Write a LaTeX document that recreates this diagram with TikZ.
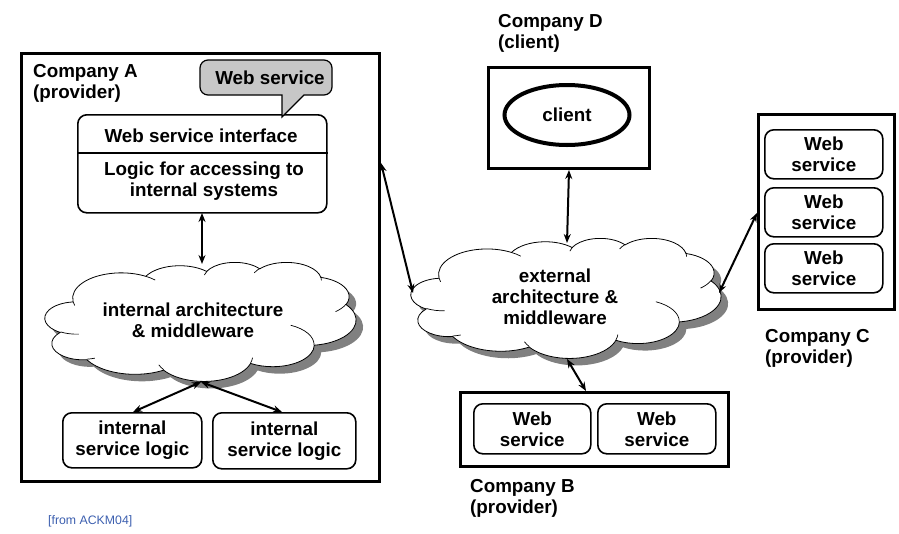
\documentclass[tikz,border=0pt]{standalone}
\usepackage{fontspec}
\setmainfont{Liberation Sans}
\usetikzlibrary{arrows.meta,shapes.geometric}
\definecolor{srcblue}{RGB}{60,95,175}

% elliptic arc given by radii and a start angle / sweep measured as seen on the ellipse
\newcommand\cloudarcdef[5]{%
  \pgfmathsetmacro\cla{atan2((#2)*sin(#4), (#3)*cos(#4))}%
  \pgfmathsetmacro\clb{atan2((#2)*sin((#4)+(#5)), (#3)*cos((#4)+(#5)))}%
  \pgfmathsetmacro\clc{mod(\clb-\cla+720,360)}%
  \expandafter\xdef\csname #1\endcsname{arc[start angle=\cla, delta angle=\clc, x radius=#2, y radius=#3]}%
}
% cloud outline on a 100 x 100 box, y pointing down
\newcommand\cloudoutline{(9.0278,33.264) \clA \clB \clC \clD \clE \clF \clG \clH \clI \clJ \clK -- cycle}
\newcommand\cloudcreases{%
  (10.863,60.595) \crA (16.037,80.785) \crB (38.144,90.486) \crC (66.729,80.442) \crD
  (79.002,53.134) \crE (96.755,35.542) \crF (88.713,12.560) \crG (67.310,9.148) \crH
  (51.252,10.926) \crI (32.407,12.019) \crJ (9.553,36.549) \crK}
% cloud with drop shadow filling the box #1 (top left corner) of size #2 x #3
\newcommand\shadedcloud[3]{%
  \begin{scope}[shift={#1}, xscale=#2/100, yscale=#3/100]
    \fill[black!50, shift={(700/#2,700/#3)}] \cloudoutline;
    \draw[line width=0.8pt, fill=white] \cloudoutline;
    \draw[line width=0.7pt] \cloudcreases;
  \end{scope}}

\begin{document}
\begin{tikzpicture}[x=1pt,y=-1pt,
  lbl/.style={font=\bfseries\fontsize{18.8}{21}\selectfont, align=center, inner sep=0pt},
  comp/.style={draw, line width=3pt},
  svc/.style={draw, line width=1.6pt, rounded corners=9pt},
  link/.style={line width=2pt, {Stealth[length=9pt,width=7pt]}-{Stealth[length=9pt,width=7pt]}},
]
\cloudarcdef{clA}{15.632}{21.273}{-190.4875}{123.7805}
\cloudarcdef{clB}{12.345}{16.822}{-144.1024}{89.9452}
\cloudarcdef{clC}{10.104}{13.762}{-145.8079}{99.7230}
\cloudarcdef{clD}{11.243}{15.266}{-130.9861}{117.2417}
\cloudarcdef{clE}{12.345}{16.836}{-78.7089}{109.0269}
\cloudarcdef{clF}{15.683}{21.343}{-46.2673}{130.2690}
\cloudarcdef{clG}{13.391}{18.211}{0.6250}{114.0333}
\cloudarcdef{clH}{15.630}{21.331}{22.4516}{115.1726}
\cloudarcdef{clI}{17.870}{24.405}{66.2426}{75.7110}
\cloudarcdef{clJ}{10.093}{13.699}{-274.9421}{146.7356}
\cloudarcdef{clK}{10.058}{13.762}{-246.8285}{152.5189}
\cloudarcdef{crA}{10.058}{13.762}{86.742}{26.4295}
\cloudarcdef{crB}{10.093}{13.699}{73.6105}{11.4475}
\cloudarcdef{crC}{15.630}{21.331}{137.6242}{14.0811}
\cloudarcdef{crD}{15.630}{21.331}{6.4533}{15.9984}
\cloudarcdef{crE}{13.391}{18.211}{-70.2924}{70.9174}
\cloudarcdef{crF}{12.345}{16.836}{30.3180}{27.7515}
\cloudarcdef{crG}{11.243}{15.266}{-13.7443}{14.8589}
\cloudarcdef{crH}{11.243}{15.266}{-149.1815}{18.1954}
\cloudarcdef{crI}{10.104}{13.762}{-163.4943}{17.6864}
\cloudarcdef{crJ}{15.632}{21.273}{-66.7070}{12.3194}
\cloudarcdef{crK}{15.632}{21.273}{157.6544}{11.8582}
\useasboundingbox (0,0) rectangle (899,533);

% ---- Company A
\node[comp, minimum width=358pt, minimum height=428pt, anchor=north west] (compA) at (20,52) {};
\node[lbl, align=left, anchor=west] (labA) at (33,83) {Company A\\(provider)};

\node[svc, minimum width=249pt, minimum height=98pt, anchor=north west] (ifc) at (77,114) {};
\draw[line width=1.6pt] (ifc.west |- 0,153) coordinate (divL) -- (ifc.east |- 0,153) coordinate (divR);
\node[lbl] (ifcT) at (201,136) {Web service interface};
\node[lbl] (ifcB) at (204,181) {Logic for accessing to\\internal systems};

% callout
\draw[line width=1.2pt, fill=black!22]
  (282,117) -- (282,95) [rounded corners=8pt] -- (200,95) -- (200,60) -- (332,60) -- (332,95)
  [sharp corners] -- (304,95) -- cycle;
\node[lbl] (callT) at (270,78) {Web service};

% internal cloud
\shadedcloud{(45,262)}{311}{119}
\node[lbl] (intT) at (193,320) {internal architecture\\\& middleware};

\node[svc, minimum width=139pt, minimum height=55pt, anchor=north west] (isl1) at (62,412) {};
\node[lbl] at (isl1) {internal\\service logic};
\node[svc, minimum width=143pt, minimum height=56pt, anchor=north west] (isl2) at (212,412) {};
\node[lbl] at (isl2) {internal\\service logic};

\coordinate (intBot) at (201,382);
\draw[link] (202,213) coordinate (ifcBot) -- (202,264) coordinate (intTop);
\draw[link] (intBot) -- (isl1.north -| 133,0);
\draw[link] (intBot) -- (isl2.north -| 282,0);

% ---- Company D
\node[lbl, align=left, anchor=west] (labD) at (498,33) {Company D\\(client)};
\node[comp, minimum width=161pt, minimum height=101pt, anchor=north west] (compD) at (487,66) {};
\node[draw, ellipse, line width=4pt, minimum width=125pt, minimum height=60pt] (cli) at (567,115) {};
\node[lbl] (cliT) at (cli) {client};

% ---- external cloud
\shadedcloud{(411,238)}{310}{120}
\node[lbl] (extT) at (555,297) {external\\architecture \&\\middleware};

% ---- Company B
\node[comp, minimum width=268pt, minimum height=74pt, anchor=north west] (compB) at (459,391) {};
\node[svc, minimum width=117pt, minimum height=50pt, anchor=north west] (b1) at (473,403) {};
\node[lbl] at (b1) {Web\\service};
\node[svc, minimum width=118pt, minimum height=50pt, anchor=north west] (b2) at (597,403) {};
\node[lbl] at (b2) {Web\\service};
\node[lbl, align=left, anchor=west] (labB) at (470,498) {Company B\\(provider)};

% ---- Company C
\node[comp, minimum width=136pt, minimum height=195pt, anchor=north west] (compC) at (757,113) {};
\node[svc, minimum width=118pt, minimum height=49pt, anchor=north west] (c1) at (764,129) {};
\node[lbl] at (c1) {Web\\service};
\node[svc, minimum width=118pt, minimum height=49pt, anchor=north west] (c2) at (764,187) {};
\node[lbl] at (c2) {Web\\service};
\node[svc, minimum width=118pt, minimum height=49pt, anchor=north west] (c3) at (764,243) {};
\node[lbl] at (c3) {Web\\service};
\node[lbl, align=left, anchor=west] (labC) at (765,348) {Company C\\(provider)};

% ---- links to the external cloud
\draw[link] (compA.east |- 0,163) -- (413,293) coordinate (extL);
\draw[link] (compD.south) -- (567,243) coordinate (extTop);
\draw[link] (compC.west |- 0,213) -- (719,293) coordinate (extR);
\draw[link] (567,359) coordinate (extBot) -- (compB.north -| 586,0);

\node[font=\fontsize{12.3}{14}\selectfont, text=srcblue, anchor=west, inner sep=0pt] (src) at (48,521) {[from ACKM04]};
\end{tikzpicture}
\end{document}
